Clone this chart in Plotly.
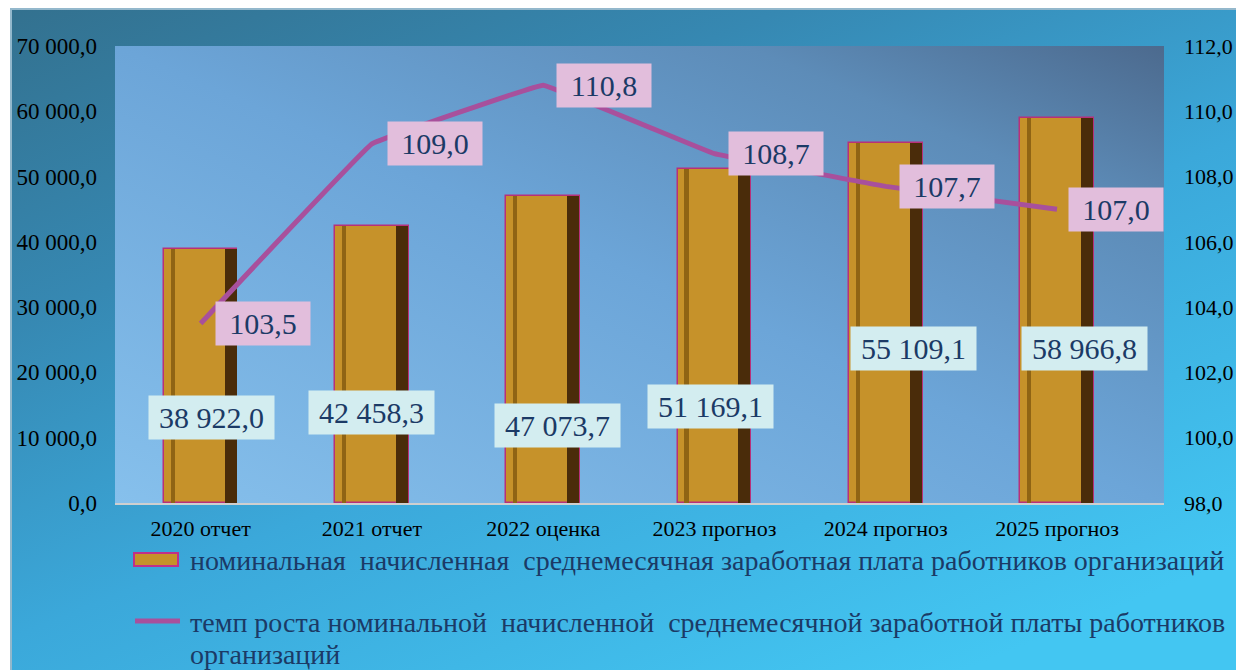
import base64
import plotly.graph_objects as go

categories = ["2020 отчет", "2021 отчет", "2022 оценка", "2023 прогноз", "2024 прогноз", "2025 прогноз"]
wages = [38922.0, 42458.3, 47073.7, 51169.1, 55109.1, 58966.8]
growth = [103.5, 109.0, 110.8, 108.7, 107.7, 107.0]
y_ticks_left = [0, 10000, 20000, 30000, 40000, 50000, 60000, 70000]
y_ticks_right = [98, 100, 102, 104, 106, 108, 110, 112]

name_bar = "номинальная  начисленная  среднемесячная заработная плата работников организаций"
name_line_1 = "темп роста номинальной  начисленной  среднемесячной заработной платы работников"
name_line_2 = "организаций"

# style / placement (not data); page pixel = figure pixel + 8 (body margin)
OFF = 8
W, H = 1244 - OFF, 670 - OFF
L, R, T, B = 115 - OFF, 1164 - OFF, 46 - OFF, 503 - OFF
FONT = "Times New Roman, Liberation Serif, serif"
TXT = "#1B3A66"
bar_label_y = [13100, 13790, 11870, 14780, 23740, 23740]
bar_label_dx = [11, 0, 14, -4, 28, 27]
line_label_dx = [62, 63, 61, 62, 61, 59]

def px_x(p):
    return (p - OFF - L) / (R - L)

def px_y(p):
    return (B - (p - OFF)) / (B - T)

def svg_uri(svg):
    return "data:image/svg+xml;base64," + base64.b64encode(svg.encode()).decode()

outer_svg = """<svg xmlns='http://www.w3.org/2000/svg' width='400' height='220' viewBox='0 0 400 220' preserveAspectRatio='none'>
<defs><linearGradient id='g' x1='0' y1='0' x2='0.75' y2='1'>
<stop offset='0' stop-color='#33718F'/><stop offset='0.3' stop-color='#3688B2'/>
<stop offset='0.6' stop-color='#3BA8DA'/><stop offset='1' stop-color='#43C6F2'/>
</linearGradient></defs><rect width='400' height='220' fill='url(#g)'/></svg>"""

plot_svg = """<svg xmlns='http://www.w3.org/2000/svg' width='400' height='200' viewBox='0 0 400 200' preserveAspectRatio='none'>
<defs><linearGradient id='p' x1='0' y1='1' x2='1' y2='0'>
<stop offset='0' stop-color='#86C0EC'/><stop offset='0.5' stop-color='#6CA5D8'/>
<stop offset='0.8' stop-color='#5D8CB8'/><stop offset='1' stop-color='#4C6A8E'/>
</linearGradient></defs><rect width='400' height='200' fill='url(#p)'/></svg>"""

fig = go.Figure()

fig.add_trace(go.Bar(
    x=categories, y=wages, name=name_bar, width=0.43, offset=-0.215,
    marker=dict(color="#C6922A", line=dict(color="#B8307A", width=1.5)),
    showlegend=False, hoverinfo="y",
))
fig.add_trace(go.Bar(
    x=categories, y=wages, width=0.07, offset=0.14,
    marker=dict(color="#4A2C0A", line=dict(width=0)),
    showlegend=False, hoverinfo="skip",
))
fig.add_trace(go.Bar(
    x=categories, y=wages, width=0.025, offset=-0.175,
    marker=dict(color="#8F6414", line=dict(width=0)),
    showlegend=False, hoverinfo="skip",
))
fig.add_trace(go.Scatter(
    x=categories, y=growth, name=name_line_1 + " " + name_line_2, yaxis="y2", mode="lines",
    line=dict(color="#A8509C", width=5, shape="spline", smoothing=0.12),
    showlegend=False,
))

annotations = []
for c, v, ly, dx in zip(categories, wages, bar_label_y, bar_label_dx):
    txt = f"{v:,.1f}".replace(",", " ").replace(".", ",")
    annotations.append(dict(
        x=c, y=ly, xref="x", yref="y", text=txt, showarrow=False, xshift=dx,
        font=dict(family=FONT, size=30, color=TXT),
        bgcolor="#D3EDF0", width=119, height=37, borderpad=3,
    ))
for c, v, dx in zip(categories, growth, line_label_dx):
    txt = f"{v:.1f}".replace(".", ",")
    annotations.append(dict(
        x=c, y=v, xref="x", yref="y2", text=txt, showarrow=False, xshift=dx,
        font=dict(family=FONT, size=30, color=TXT),
        bgcolor="#E2BEDC", width=88, height=37, borderpad=3,
    ))

# legend (drawn as shapes + text)
for txt, py in [(name_bar, 560), (name_line_1, 622), (name_line_2, 655)]:
    annotations.append(dict(
        x=px_x(188), y=px_y(py), xref="paper", yref="paper", xanchor="left", yanchor="middle",
        text=txt, showarrow=False, align="left",
        font=dict(family=FONT, size=28, color=TXT),
    ))

shapes = [
    dict(type="rect", xref="paper", yref="paper",
         x0=px_x(11), x1=px_x(1250), y0=px_y(680), y1=px_y(9),
         line=dict(color="#93B8CC", width=2), fillcolor="rgba(0,0,0,0)", layer="below"),
    dict(type="rect", xref="paper", yref="paper",
         x0=px_x(134), x1=px_x(178), y0=px_y(566), y1=px_y(553),
         line=dict(color="#C0308A", width=2), fillcolor="#C6922A", layer="above"),
    dict(type="line", xref="paper", yref="paper",
         x0=px_x(135), x1=px_x(180), y0=px_y(621), y1=px_y(621),
         line=dict(color="#A8509C", width=5), layer="above"),
]

fig.update_layout(
    width=W, height=H,
    margin=dict(l=L, r=W - R, t=T, b=H - B, autoexpand=False),
    paper_bgcolor="white", plot_bgcolor="rgba(0,0,0,0)",
    separators=", ",
    barmode="overlay", bargap=0,
    font=dict(family=FONT, color="black"),
    showlegend=False,
    xaxis=dict(
        showgrid=False, zeroline=False, showline=True, linecolor="#CFCFCF", linewidth=2,
        tickfont=dict(family=FONT, size=22, color="black"), ticks="", ticklabelstandoff=5,
        automargin=False,
    ),
    yaxis=dict(
        range=[0, 70000], tickvals=y_ticks_left, tickformat=",.1f",
        showgrid=False, zeroline=False, showline=False,
        tickfont=dict(family=FONT, size=23, color="black"), ticks="", ticklabelstandoff=17,
        automargin=False,
    ),
    yaxis2=dict(
        range=[98, 112], tickvals=y_ticks_right, tickformat=".1f",
        overlaying="y", side="right",
        showgrid=False, zeroline=False, showline=False,
        tickfont=dict(family=FONT, size=22, color="black"), ticks="", ticklabelstandoff=19,
        automargin=False,
    ),
    annotations=annotations,
    shapes=shapes,
    images=[
        dict(source=svg_uri(outer_svg), xref="paper", yref="paper",
             x=px_x(11), y=px_y(9), sizex=px_x(1250) - px_x(11), sizey=px_y(9) - px_y(680),
             xanchor="left", yanchor="top", sizing="stretch", layer="below"),
        dict(source=svg_uri(plot_svg), xref="paper", yref="paper",
             x=0, y=1, sizex=1, sizey=1,
             xanchor="left", yanchor="top", sizing="stretch", layer="below"),
    ],
)

fig.write_html("out.html")
